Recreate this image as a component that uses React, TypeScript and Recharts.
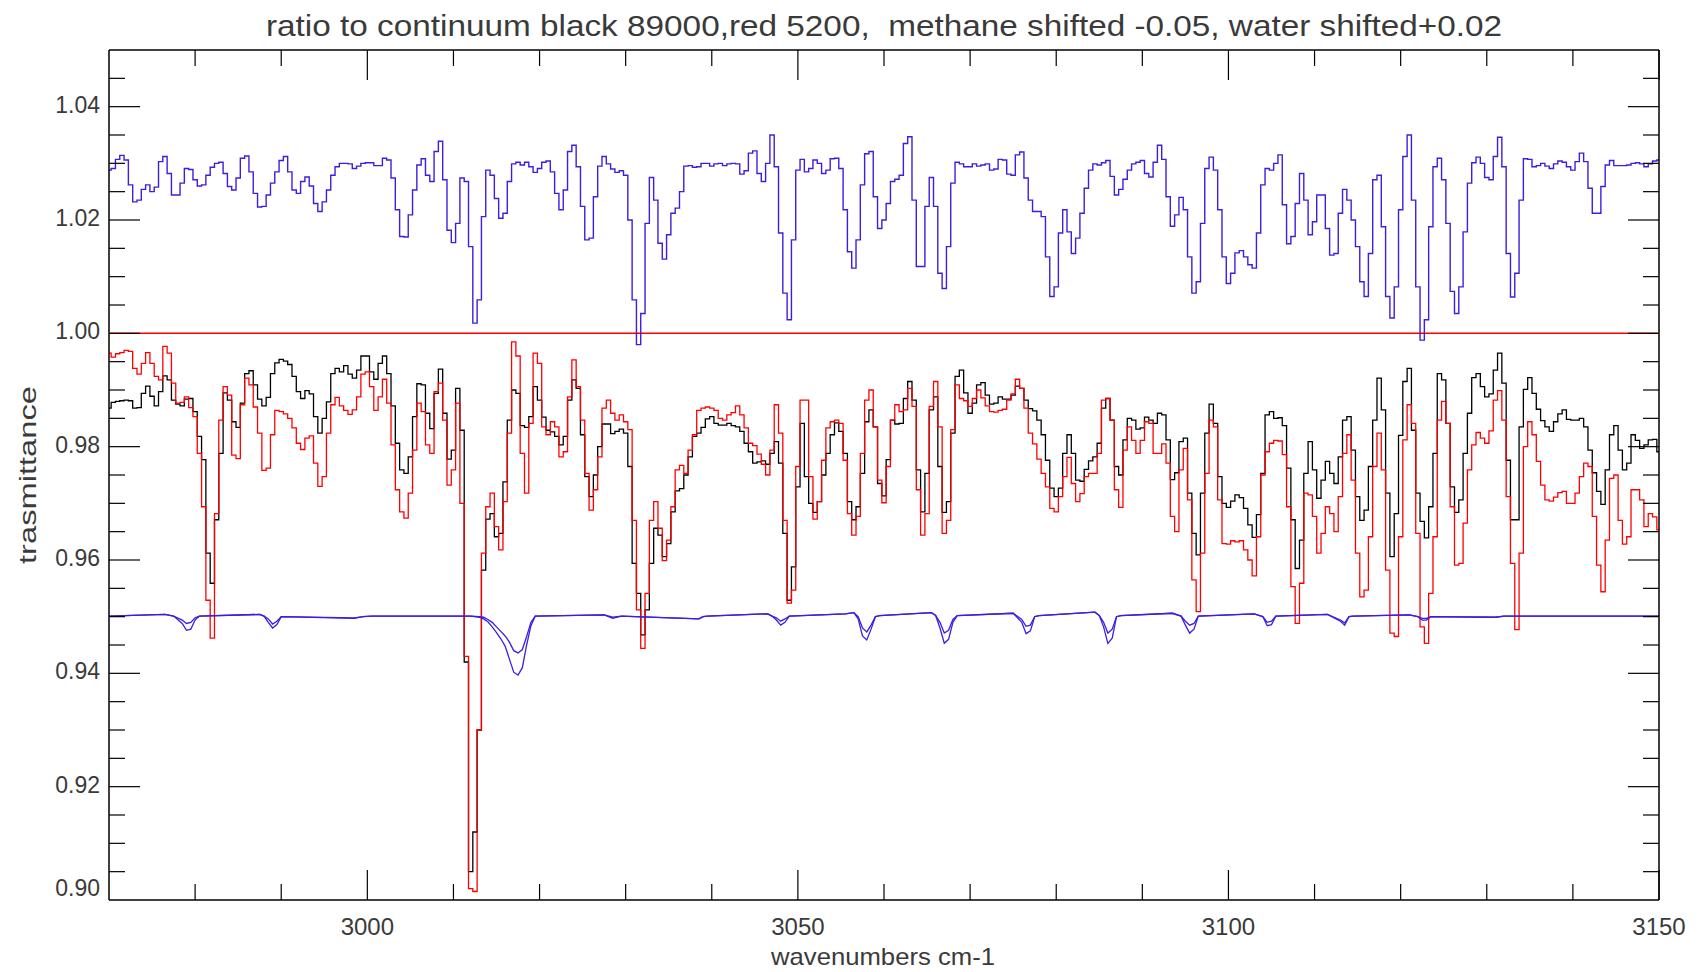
import React from "react";
import { LineChart, Line, XAxis, YAxis, ReferenceLine } from "recharts";

// sampling grid of the spectra (cm-1), 0.5 cm-1 step from 2970 to 3150
const wavenumbers: number[] = Array.from({ length: 361 }, (_, i) => 2970 + i * 0.5);

// methane (shifted -0.05 in the original, shown above 1.00)
const methane = [
  1.0288, 1.0291, 1.0307, 1.0314, 1.0306, 1.0262, 1.0232, 1.0235, 1.0254, 1.0262, 1.025,
  1.0258, 1.0303, 1.0312, 1.0282, 1.0244, 1.0244, 1.0265, 1.0291, 1.0289, 1.0271,
  1.026, 1.0262, 1.0279, 1.0293, 1.03, 1.0302, 1.0282, 1.0259, 1.0253, 1.0274,
  1.0309, 1.0313, 1.0285, 1.0247, 1.0223, 1.0224, 1.0244, 1.0265, 1.0285, 1.0305,
  1.0312, 1.0285, 1.0253, 1.0247, 1.0268, 1.0276, 1.026, 1.0229, 1.0215, 1.0232,
  1.0253, 1.0279, 1.0294, 1.03, 1.03, 1.0299, 1.0291, 1.0295, 1.03, 1.0301,
  1.0301, 1.0296, 1.0296, 1.0309, 1.0306, 1.0274, 1.0218, 1.0171, 1.017, 1.0209,
  1.0253, 1.0297, 1.0308, 1.0279, 1.0268, 1.0321, 1.0339, 1.0271, 1.0182, 1.016,
  1.0194, 1.0274, 1.0268, 1.0153, 1.0018, 1.0059, 1.0206, 1.0288, 1.0279, 1.0238,
  1.0203, 1.0212, 1.0268, 1.0299, 1.0302, 1.0297, 1.0302, 1.0294, 1.0284, 1.0291,
  1.0302, 1.0304, 1.0285, 1.0247, 1.0218, 1.0253, 1.0321, 1.0332, 1.0294, 1.0224,
  1.0165, 1.0168, 1.0241, 1.0295, 1.0312, 1.0299, 1.029, 1.0284, 1.0287, 1.0279,
  1.02, 1.0059, 0.998, 1.0035, 1.0194, 1.0275, 1.0235, 1.0159, 1.0131, 1.0174,
  1.0212, 1.0221, 1.025, 1.0295, 1.0296, 1.0293, 1.0294, 1.03, 1.03, 1.0295,
  1.0299, 1.03, 1.0296, 1.0299, 1.03, 1.0299, 1.0281, 1.0287, 1.0318, 1.0322,
  1.0282, 1.0268, 1.03, 1.035, 1.0294, 1.0177, 1.0071, 1.0024, 1.0165, 1.0288,
  1.0307, 1.0285, 1.0291, 1.0306, 1.03, 1.0282, 1.0288, 1.0308, 1.0309, 1.0291,
  1.0218, 1.0144, 1.0115, 1.0165, 1.0262, 1.0317, 1.0321, 1.0241, 1.0185, 1.02,
  1.0229, 1.0268, 1.0272, 1.0279, 1.0335, 1.0347, 1.0235, 1.0118, 1.0118, 1.0224,
  1.0275, 1.0224, 1.0106, 1.0079, 1.0153, 1.0265, 1.0302, 1.0299, 1.0294, 1.0294,
  1.0299, 1.0295, 1.0297, 1.0299, 1.0288, 1.029, 1.0307, 1.0306, 1.0281, 1.0279,
  1.0315, 1.032, 1.0274, 1.0235, 1.0215, 1.0215, 1.0206, 1.0135, 1.0065, 1.0082,
  1.0177, 1.0218, 1.0179, 1.0141, 1.0168, 1.0212, 1.0256, 1.0288, 1.0299, 1.0297,
  1.0301, 1.0305, 1.0277, 1.0244, 1.0254, 1.0272, 1.0288, 1.0299, 1.0302, 1.0305,
  1.0282, 1.0276, 1.0302, 1.0332, 1.0307, 1.0241, 1.0189, 1.0209, 1.024, 1.0218,
  1.0135, 1.0071, 1.0091, 1.0194, 1.0291, 1.0311, 1.0288, 1.0218, 1.0135, 1.0088,
  1.0106, 1.0142, 1.0146, 1.0135, 1.0121, 1.0115, 1.0177, 1.0262, 1.0291, 1.0288,
  1.03, 1.0315, 1.0227, 1.0158, 1.0171, 1.0229, 1.0282, 1.0235, 1.0174, 1.0197,
  1.0244, 1.0244, 1.0185, 1.0138, 1.0141, 1.0212, 1.0254, 1.0235, 1.02, 1.0153,
  1.0091, 1.0065, 1.0141, 1.0271, 1.0279, 1.0188, 1.0065, 1.0027, 1.0082, 1.0218,
  1.0312, 1.035, 1.0235, 1.0082, 0.9988, 1.0024, 1.0188, 1.0294, 1.0309, 1.0271,
  1.0194, 1.0074, 1.0035, 1.0082, 1.0179, 1.0265, 1.0301, 1.0311, 1.03, 1.0275,
  1.0271, 1.0312, 1.0346, 1.0294, 1.0141, 1.0064, 1.0106, 1.0235, 1.0308, 1.0307,
  1.0294, 1.0296, 1.03, 1.0295, 1.0291, 1.0299, 1.0304, 1.0302, 1.0294, 1.0288,
  1.0303, 1.0318, 1.0303, 1.0256, 1.0212, 1.0212, 1.0259, 1.0297, 1.0305, 1.0296,
  1.0296, 1.0296, 1.0297, 1.03, 1.0301, 1.0299, 1.0294, 1.0299, 1.0304, 1.0306,
];

// black: 89000
const black89000 = [
  0.9868, 0.9878, 0.988, 0.9881, 0.9882, 0.9881, 0.9868, 0.9869, 0.9894, 0.9907, 0.9889,
  0.9872, 0.9897, 0.9925, 0.9918, 0.9882, 0.9875, 0.9872, 0.9884, 0.9885, 0.9862,
  0.9818, 0.9777, 0.9612, 0.9559, 0.9671, 0.9788, 0.9895, 0.9882, 0.9844, 0.9834,
  0.9877, 0.9929, 0.9934, 0.9909, 0.9884, 0.9872, 0.9887, 0.9929, 0.9948, 0.9954,
  0.9951, 0.9945, 0.9924, 0.9897, 0.9885, 0.9899, 0.9893, 0.9853, 0.9824, 0.985,
  0.9879, 0.9929, 0.9938, 0.9932, 0.9943, 0.9928, 0.9921, 0.9935, 0.996, 0.996,
  0.9932, 0.9919, 0.9947, 0.996, 0.9929, 0.9872, 0.9806, 0.9759, 0.9753, 0.9782,
  0.9853, 0.9911, 0.9909, 0.9859, 0.9832, 0.9894, 0.9937, 0.9859, 0.9778, 0.9794,
  0.9903, 0.9829, 0.942, 0.905, 0.912, 0.93, 0.9582, 0.9672, 0.9682, 0.9641,
  0.9647, 0.9738, 0.9847, 0.99, 0.9894, 0.9837, 0.9834, 0.9853, 0.9906, 0.9882,
  0.9852, 0.9829, 0.9826, 0.9818, 0.9803, 0.9818, 0.9882, 0.9918, 0.9903, 0.9821,
  0.9747, 0.9712, 0.975, 0.98, 0.984, 0.984, 0.9823, 0.9827, 0.9831, 0.9824,
  0.9765, 0.9594, 0.9541, 0.9468, 0.9512, 0.9594, 0.9656, 0.9644, 0.9606, 0.9629,
  0.9685, 0.9722, 0.9726, 0.975, 0.9782, 0.9818, 0.9824, 0.9834, 0.9849, 0.9853,
  0.9841, 0.9838, 0.9838, 0.9841, 0.9837, 0.9835, 0.9827, 0.9806, 0.9791, 0.9771,
  0.9773, 0.9775, 0.9769, 0.9788, 0.9809, 0.9771, 0.9647, 0.9529, 0.9588, 0.9729,
  0.9841, 0.9747, 0.97, 0.9684, 0.9703, 0.975, 0.9788, 0.9821, 0.9842, 0.9827,
  0.9788, 0.9703, 0.9671, 0.9694, 0.9753, 0.9844, 0.9865, 0.9835, 0.9735, 0.9713,
  0.9777, 0.9847, 0.984, 0.9841, 0.9885, 0.9915, 0.9882, 0.9759, 0.9685, 0.9753,
  0.9865, 0.9888, 0.9765, 0.9684, 0.9703, 0.9824, 0.9924, 0.9935, 0.9895, 0.9859,
  0.9877, 0.9909, 0.9913, 0.9891, 0.9875, 0.9877, 0.9888, 0.9884, 0.9884, 0.9891,
  0.9907, 0.9903, 0.9882, 0.9867, 0.9863, 0.9847, 0.9821, 0.9776, 0.9727, 0.9712,
  0.9727, 0.9788, 0.9821, 0.9788, 0.9741, 0.9739, 0.976, 0.9775, 0.9782, 0.9806,
  0.9868, 0.9885, 0.9847, 0.9765, 0.975, 0.9812, 0.985, 0.9847, 0.9831, 0.9833,
  0.9852, 0.9847, 0.9841, 0.9859, 0.9856, 0.9812, 0.9742, 0.9754, 0.9809, 0.9815,
  0.9718, 0.9647, 0.9609, 0.9718, 0.9824, 0.9875, 0.9841, 0.9747, 0.97, 0.9693,
  0.9704, 0.9715, 0.971, 0.9691, 0.9662, 0.964, 0.968, 0.9753, 0.9856, 0.9862,
  0.985, 0.9851, 0.9837, 0.9762, 0.9671, 0.9585, 0.9635, 0.9753, 0.9809, 0.9759,
  0.9709, 0.9741, 0.9774, 0.9753, 0.9735, 0.9782, 0.9847, 0.9853, 0.9794, 0.9712,
  0.967, 0.9688, 0.9765, 0.9847, 0.9921, 0.9865, 0.9718, 0.9606, 0.9682, 0.982,
  0.9915, 0.9938, 0.9829, 0.9718, 0.9668, 0.9639, 0.9694, 0.9788, 0.9929, 0.9918,
  0.9841, 0.9729, 0.9684, 0.9706, 0.9788, 0.9859, 0.9922, 0.9929, 0.9906, 0.9888,
  0.9893, 0.9935, 0.9965, 0.9912, 0.9776, 0.9671, 0.9671, 0.9835, 0.9901, 0.9922,
  0.9894, 0.9866, 0.9846, 0.9835, 0.9827, 0.9844, 0.9858, 0.9865, 0.9848, 0.9847,
  0.9847, 0.985, 0.9835, 0.9794, 0.9754, 0.9721, 0.9698, 0.9759, 0.9821, 0.9837,
  0.9794, 0.9759, 0.9771, 0.9821, 0.9811, 0.9797, 0.9803, 0.9812, 0.9813, 0.9791,
];

// red: 5200
const red5200 = [
  0.9965, 0.9958, 0.9964, 0.9966, 0.997, 0.9968, 0.9938, 0.9928, 0.9947, 0.9966, 0.9947,
  0.9924, 0.9918, 0.9977, 0.9965, 0.9912, 0.9877, 0.9878, 0.9888, 0.9869, 0.9853,
  0.9788, 0.9694, 0.9529, 0.9462, 0.9682, 0.9847, 0.9906, 0.9891, 0.9785, 0.9779,
  0.9874, 0.9921, 0.9909, 0.987, 0.9824, 0.9758, 0.9762, 0.9821, 0.9864, 0.9862,
  0.9858, 0.985, 0.9833, 0.9806, 0.9795, 0.9815, 0.9819, 0.9771, 0.973, 0.9747,
  0.9824, 0.9874, 0.9887, 0.9872, 0.9864, 0.9857, 0.9865, 0.9888, 0.9928, 0.9932,
  0.9906, 0.9864, 0.9888, 0.9919, 0.9877, 0.9803, 0.9724, 0.9685, 0.9674, 0.9718,
  0.9794, 0.9877, 0.9862, 0.9803, 0.9788, 0.9897, 0.9912, 0.9847, 0.9732, 0.9759,
  0.9877, 0.97, 0.943, 0.902, 0.9015, 0.93, 0.9612, 0.9694, 0.9718, 0.9659,
  0.9618, 0.9703, 0.9824, 0.9985, 0.996, 0.9788, 0.9718, 0.9841, 0.9965, 0.9947,
  0.9835, 0.9821, 0.9844, 0.9835, 0.9782, 0.9791, 0.9888, 0.9953, 0.9906, 0.9847,
  0.9753, 0.9688, 0.9724, 0.9782, 0.9868, 0.9882, 0.9859, 0.9847, 0.9856, 0.9844,
  0.983, 0.967, 0.9512, 0.9444, 0.9541, 0.967, 0.9703, 0.9656, 0.9599, 0.9635,
  0.9694, 0.9759, 0.9767, 0.9753, 0.9794, 0.9821, 0.9864, 0.9868, 0.987, 0.9868,
  0.9864, 0.985, 0.9847, 0.9856, 0.986, 0.9872, 0.9856, 0.9833, 0.9806, 0.9802,
  0.9787, 0.9769, 0.975, 0.9794, 0.9874, 0.9824, 0.967, 0.9524, 0.9547, 0.9765,
  0.9882, 0.9882, 0.9747, 0.9672, 0.9703, 0.9776, 0.9833, 0.9844, 0.9847, 0.9841,
  0.9776, 0.9682, 0.9644, 0.9677, 0.9788, 0.9882, 0.99, 0.9835, 0.9741, 0.9701,
  0.9765, 0.9847, 0.9874, 0.9862, 0.9865, 0.9903, 0.9871, 0.9724, 0.9644, 0.9682,
  0.9871, 0.9915, 0.9835, 0.9647, 0.967, 0.983, 0.9909, 0.9885, 0.9881, 0.9871,
  0.9885, 0.99, 0.9886, 0.9872, 0.9862, 0.9861, 0.9864, 0.9866, 0.9882, 0.9893,
  0.9919, 0.9903, 0.9868, 0.9824, 0.9805, 0.9778, 0.9753, 0.9729, 0.9691, 0.9685,
  0.9712, 0.9747, 0.9781, 0.9735, 0.9703, 0.9717, 0.9747, 0.9753, 0.9753, 0.9788,
  0.9882, 0.9885, 0.9847, 0.9724, 0.9693, 0.9794, 0.9835, 0.9811, 0.9788, 0.9811,
  0.9844, 0.9841, 0.9788, 0.9788, 0.9805, 0.9771, 0.9677, 0.965, 0.9759, 0.9797,
  0.9706, 0.9565, 0.9509, 0.9612, 0.9753, 0.9847, 0.9835, 0.9706, 0.9629, 0.9628,
  0.9634, 0.9632, 0.9634, 0.9618, 0.96, 0.9572, 0.9641, 0.975, 0.9791, 0.9806,
  0.9811, 0.981, 0.9786, 0.9694, 0.9553, 0.9488, 0.9559, 0.9718, 0.9715, 0.9677,
  0.9612, 0.9647, 0.9694, 0.9682, 0.965, 0.9712, 0.9788, 0.9821, 0.9741, 0.9612,
  0.9535, 0.9547, 0.9641, 0.9765, 0.9824, 0.9759, 0.9582, 0.9471, 0.9465, 0.9641,
  0.9812, 0.9874, 0.9841, 0.9647, 0.9482, 0.9453, 0.9541, 0.9641, 0.9847, 0.988,
  0.9841, 0.9694, 0.9591, 0.9594, 0.9665, 0.9759, 0.9803, 0.9825, 0.9815, 0.9806,
  0.9828, 0.9882, 0.9899, 0.9847, 0.9712, 0.9594, 0.9477, 0.9612, 0.98, 0.9844,
  0.9821, 0.9774, 0.9732, 0.9706, 0.9704, 0.9711, 0.9719, 0.9721, 0.97, 0.97,
  0.9718, 0.9747, 0.9771, 0.9765, 0.9677, 0.9591, 0.9544, 0.9635, 0.9744, 0.975,
  0.967, 0.9628, 0.9641, 0.9724, 0.9724, 0.9706, 0.9659, 0.9682, 0.9676, 0.9653,
];

// water (shifted +0.02), two curves, read at breakpoints
const waterX = [
  2970, 2976.5, 2977.5, 2978.5, 2979, 2979.5, 2980, 2980.5, 2987.5, 2988, 2988.5, 2989, 2989.5, 2990,
  2998.5, 2999.5, 3000.5, 3012, 3013, 3013.5, 3014, 3014.5, 3015, 3015.5, 3016, 3016.5, 3017, 3017.5,
  3018, 3018.5, 3019, 3019.5, 3027.5, 3028.5, 3029.5, 3038.5, 3039, 3039.5, 3046.5, 3047, 3047.5, 3048,
  3048.5, 3049, 3055.5, 3056.5, 3057, 3057.5, 3058, 3058.5, 3059, 3059.5, 3065.5, 3066, 3066.5, 3067,
  3067.5, 3068, 3068.5, 3075, 3076, 3076.5, 3077, 3077.5, 3078, 3084.5, 3085, 3085.5, 3086, 3086.5,
  3087, 3087.5, 3093.5, 3094.5, 3095, 3095.5, 3096, 3096.5, 3103, 3104, 3104.5, 3105, 3105.5, 3111.5,
  3113, 3113.5, 3114, 3114.5, 3121, 3122, 3122.5, 3123, 3123.5, 3131, 3132, 3150,
];
const waterA = [
  0.9501, 0.9504, 0.9501, 0.9494, 0.9488, 0.949, 0.9498, 0.9501, 0.9504, 0.9501, 0.9496, 0.9487, 0.9492, 0.95,
  0.9498, 0.95, 0.9501, 0.9501, 0.95, 0.9499, 0.9495, 0.949, 0.9482, 0.9474, 0.9466, 0.9455, 0.944, 0.9436,
  0.9442, 0.9465, 0.949, 0.9501, 0.9503, 0.9499, 0.9501, 0.9496, 0.95, 0.9501, 0.9505, 0.9501, 0.9498, 0.9492,
  0.9496, 0.9501, 0.9505, 0.9507, 0.95, 0.948, 0.9473, 0.9485, 0.95, 0.9502, 0.9507, 0.9502, 0.949, 0.9471,
  0.9476, 0.9495, 0.9502, 0.9506, 0.9495, 0.9483, 0.9485, 0.95, 0.9502, 0.9508, 0.9502, 0.949, 0.9471, 0.9478,
  0.95, 0.9502, 0.9506, 0.9501, 0.9492, 0.9485, 0.9488, 0.9501, 0.9505, 0.95, 0.949, 0.9492, 0.9501, 0.9504,
  0.9494, 0.9489, 0.95, 0.9501, 0.9503, 0.95, 0.9497, 0.9497, 0.95, 0.9499, 0.9501, 0.9501,
];
const waterB = [
  0.9501, 0.9504, 0.9501, 0.9488, 0.9476, 0.9478, 0.9494, 0.9501, 0.9504, 0.9501, 0.949, 0.948, 0.9486, 0.95,
  0.9497, 0.95, 0.9501, 0.9501, 0.9499, 0.9496, 0.9491, 0.9482, 0.9472, 0.9461, 0.9448, 0.9425, 0.9402, 0.9397,
  0.941, 0.945, 0.9484, 0.9501, 0.9503, 0.9497, 0.9501, 0.9496, 0.95, 0.9501, 0.9505, 0.9501, 0.9494, 0.9485,
  0.949, 0.9501, 0.9505, 0.9507, 0.9496, 0.9466, 0.9459, 0.9478, 0.95, 0.9502, 0.9507, 0.9502, 0.948, 0.9453,
  0.946, 0.949, 0.9502, 0.9506, 0.949, 0.947, 0.9475, 0.95, 0.9502, 0.9508, 0.9502, 0.9482, 0.9453, 0.9462,
  0.95, 0.9502, 0.9506, 0.9501, 0.9485, 0.9471, 0.9478, 0.9501, 0.9505, 0.95, 0.9484, 0.9486, 0.9501, 0.9504,
  0.9492, 0.9485, 0.95, 0.9501, 0.9503, 0.95, 0.9494, 0.9494, 0.95, 0.9499, 0.9501, 0.9501,
];

const xTicks = [2980, 2990, 3000, 3010, 3020, 3030, 3040, 3050, 3060, 3070, 3080, 3090, 3100, 3110, 3120, 3130, 3140, 3150];
const yTicks = [
  0.9, 0.905, 0.91, 0.915, 0.92, 0.925, 0.93, 0.935, 0.94, 0.945, 0.95, 0.955, 0.96, 0.965, 0.97, 0.975,
  0.98, 0.985, 0.99, 0.995, 1.0, 1.005, 1.01, 1.015, 1.02, 1.025, 1.03, 1.035, 1.04, 1.045,
];

const TITLE = "ratio to continuum black 89000,red 5200,  methane shifted -0.05, water shifted+0.02";
const XLABEL = "wavenumbers cm-1";
const YLABEL = "trasmittance";

const toSeries = (vals: number[]) => wavenumbers.map((w, i) => ({ w, v: vals[i] }));
const methaneData = toSeries(methane);
const blackData = toSeries(black89000);
const redData = toSeries(red5200);
const waterAData = waterX.map((w, i) => ({ w, v: waterA[i] }));
const waterBData = waterX.map((w, i) => ({ w, v: waterB[i] }));

const W = 1687;
const H = 964;
const FONT = "'Liberation Sans', Arial, sans-serif";
const TEXT = "#3a3a3a";
const BLUE = "#3c1ee0";

const isMajorY = (v: number) => Math.abs(v * 50 - Math.round(v * 50)) < 1e-6;
const isMajorX = (v: number) => Math.round(v) % 50 === 0;

const LeftTick = (props: any) => {
  const { x, y, payload } = props;
  const v = payload.value as number;
  const major = isMajorY(v);
  const dy = Math.abs(v - 0.9) < 1e-6 ? -12 : -2;
  return (
    <g>
      {v > 0.9001 && (
        <line x1={x} x2={x + (major ? 31 : 16)} y1={y} y2={y} stroke="#000" strokeWidth={1.2} />
      )}
      {major && (
        <text x={x - 9} y={y + dy} textAnchor="end" dominantBaseline="central" fontFamily={FONT} fontSize={23} fill={TEXT}>
          {v.toFixed(2)}
        </text>
      )}
    </g>
  );
};

const RightTick = (props: any) => {
  const { x, y, payload } = props;
  const v = payload.value as number;
  if (v < 0.9001) return <g />;
  const major = isMajorY(v);
  return <line x1={x} x2={x - (major ? 31 : 16)} y1={y} y2={y} stroke="#000" strokeWidth={1.2} />;
};

const BottomTick = (props: any) => {
  const { x, y, payload } = props;
  const v = payload.value as number;
  const major = isMajorX(v);
  return (
    <g>
      <line x1={x} x2={x} y1={y} y2={y - (major ? 30 : 16)} stroke="#000" strokeWidth={1.2} />
      {major && (
        <text x={x} y={y + 26} textAnchor="middle" dominantBaseline="central" fontFamily={FONT} fontSize={24} fill={TEXT}>
          {String(v)}
        </text>
      )}
    </g>
  );
};

const TopTick = (props: any) => {
  const { x, y, payload } = props;
  const v = payload.value as number;
  const major = isMajorX(v);
  return <line x1={x} x2={x} y1={y} y2={y + (major ? 30 : 16)} stroke="#000" strokeWidth={1.2} />;
};

export default function App() {
  return (
    <div style={{ position: "relative", width: W, height: H, background: "#fff" }}>
      <LineChart width={W} height={H} margin={{ top: 41, right: 35, bottom: 0, left: 0 }}>
        <XAxis
          xAxisId="b"
          dataKey="w"
          type="number"
          domain={[2970, 3150]}
          allowDataOverflow
          ticks={xTicks}
          interval={0}
          tickSize={0}
          tickMargin={0}
          height={72}
          axisLine={{ stroke: "#000", strokeWidth: 1.5 }}
          tickLine={false}
          tick={<BottomTick />}
        />
        <XAxis
          xAxisId="t"
          orientation="top"
          dataKey="w"
          type="number"
          domain={[2970, 3150]}
          allowDataOverflow
          ticks={xTicks}
          interval={0}
          tickSize={0}
          tickMargin={0}
          height={1}
          axisLine={{ stroke: "#000", strokeWidth: 1.5 }}
          tickLine={false}
          tick={<TopTick />}
        />
        <YAxis
          yAxisId="l"
          type="number"
          domain={[0.9, 1.05]}
          allowDataOverflow
          ticks={yTicks}
          interval={0}
          tickSize={0}
          tickMargin={0}
          width={101}
          axisLine={{ stroke: "#000", strokeWidth: 1.5 }}
          tickLine={false}
          tick={<LeftTick />}
        />
        <YAxis
          yAxisId="r"
          orientation="right"
          type="number"
          domain={[0.9, 1.05]}
          allowDataOverflow
          ticks={yTicks}
          interval={0}
          tickSize={0}
          tickMargin={0}
          width={1}
          axisLine={{ stroke: "#000", strokeWidth: 1.5 }}
          tickLine={false}
          tick={<RightTick />}
        />
        <ReferenceLine xAxisId="b" yAxisId="l" y={1.0} stroke="#ff0000" strokeWidth={1.5} />
        <Line xAxisId="b" yAxisId="l" data={blackData} dataKey="v" type="step" dot={false} stroke="#000000" strokeWidth={1.3} isAnimationActive={false} />
        <Line xAxisId="b" yAxisId="l" data={redData} dataKey="v" type="step" dot={false} stroke="#ff0000" strokeWidth={1.3} isAnimationActive={false} />
        <Line xAxisId="b" yAxisId="l" data={methaneData} dataKey="v" type="step" dot={false} stroke={BLUE} strokeWidth={1.4} isAnimationActive={false} />
        <Line xAxisId="b" yAxisId="l" data={waterAData} dataKey="v" type="linear" dot={false} stroke={BLUE} strokeWidth={1.3} isAnimationActive={false} />
        <Line xAxisId="b" yAxisId="l" data={waterBData} dataKey="v" type="linear" dot={false} stroke={BLUE} strokeWidth={1.3} isAnimationActive={false} />
      </LineChart>
      <svg width={W} height={H} style={{ position: "absolute", left: 0, top: 0, pointerEvents: "none" }}>
        <text x={876} y={28} textAnchor="middle" fontFamily={FONT} fontSize={29} fill={TEXT} textLength={1236} lengthAdjust="spacingAndGlyphs" style={{ whiteSpace: "pre" }}>
          {TITLE}
        </text>
        <text x={875} y={948} textAnchor="middle" dominantBaseline="central" fontFamily={FONT} fontSize={24} fill={TEXT} textLength={224} lengthAdjust="spacingAndGlyphs">
          {XLABEL}
        </text>
        <text x={19} y={467} transform="rotate(-90 19 467)" textAnchor="middle" dominantBaseline="central" fontFamily={FONT} fontSize={24} fill={TEXT} textLength={178} lengthAdjust="spacingAndGlyphs">
          {YLABEL}
        </text>
      </svg>
    </div>
  );
}
